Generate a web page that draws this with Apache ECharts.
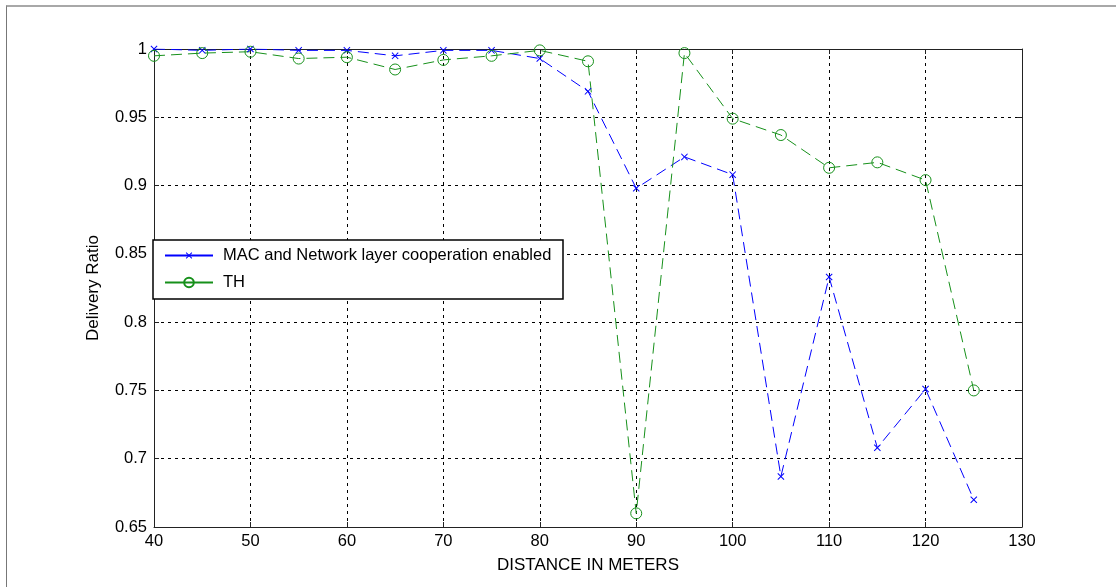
<!DOCTYPE html>
<html>
<head>
<meta charset="utf-8">
<script src="https://cdn.jsdelivr.net/npm/echarts@6/dist/echarts.min.js"></script>
<style>
html,body{margin:0;padding:0;background:#fff;}
#frame{position:absolute;left:6px;top:5px;width:1110px;height:582px;border-top:2px solid #a8a8a8;border-left:1px solid #777;box-sizing:border-box;}
#chart{position:absolute;left:0;top:0;width:1116px;height:587px;}
</style>
</head>
<body>
<div id="frame"></div>
<div id="chart"></div>
<script>
const distances = [40,45,50,55,60,65,70,75,80,85,90,95,100,105,110,115,120,125];
const macValues = [1.0,0.999,1.0,0.999,0.999,0.995,0.999,0.999,0.993,0.969,0.898,0.921,0.908,0.687,0.833,0.708,0.751,0.670];
const thValues  = [0.995,0.997,0.998,0.993,0.994,0.985,0.992,0.995,0.999,0.991,0.660,0.997,0.949,0.937,0.913,0.917,0.904,0.750];
const seriesNames = ['MAC and Network layer cooperation enabled','TH'];
const xAxisName = 'DISTANCE IN METERS';
const yAxisName = 'Delivery Ratio';

const font = 'Liberation Sans, Arial, sans-serif';
const fs = 16.5;
const blue = '#0000ff';
const green = '#16901a';
const xMark = 'path://M0,1 L1,0 L5,4 L9,0 L10,1 L6,5 L10,9 L9,10 L5,6 L1,10 L0,9 L4,5 Z';

const chart = echarts.init(document.getElementById('chart'), null, {renderer:'canvas'});
const axisLine = {show:true, lineStyle:{color:'#222', width:1}};
const tick = {show:true, inside:true, length:5, lineStyle:{color:'#222'}};
const split = {show:true, lineStyle:{color:'#000', type:[3,4], width:1}};
const legendText = {fontFamily:font, fontSize:fs, color:'#000', padding:[0,0,0,5]};
chart.setOption({
  animation:false,
  backgroundColor:'transparent',
  grid:{left:154, right:94, top:49, bottom:60},
  graphic:[{
    type:'rect', z:3,
    shape:{x:153, y:240, width:410, height:59},
    style:{fill:'#fff', stroke:'#000', lineWidth:1.5}
  }],
  legend:[{
    orient:'vertical', left:164, top:247, padding:0,
    itemWidth:48, itemHeight:8,
    textStyle:legendText, lineStyle:{type:'solid'},
    data:[seriesNames[0]]
  },{
    orient:'vertical', left:164, top:274, padding:0,
    itemWidth:48, itemHeight:12,
    textStyle:legendText, lineStyle:{type:'solid'},
    data:[seriesNames[1]]
  }],
  xAxis:[{
    type:'value', min:40, max:130, interval:10,
    name:xAxisName, nameLocation:'middle', nameGap:30,
    nameTextStyle:{fontFamily:font, fontSize:17, color:'#000'},
    axisLine:axisLine, axisTick:tick,
    axisLabel:{fontFamily:font, fontSize:fs, color:'#000', margin:6},
    splitLine:split
  },{
    type:'value', min:40, max:130, interval:10, position:'top',
    axisLine:axisLine, axisTick:tick,
    axisLabel:{show:false}, splitLine:{show:false}
  }],
  yAxis:[{
    type:'value', min:0.65, max:1, interval:0.05,
    name:yAxisName, nameLocation:'middle', nameGap:52, nameRotate:90,
    nameTextStyle:{fontFamily:font, fontSize:17, color:'#000'},
    axisLine:axisLine, axisTick:tick,
    axisLabel:{fontFamily:font, fontSize:fs, color:'#000', margin:7,
      formatter:v=>String(+v.toFixed(2))},
    splitLine:split
  },{
    type:'value', min:0.65, max:1, interval:0.05, position:'right',
    axisLine:axisLine, axisTick:tick,
    axisLabel:{show:false}, splitLine:{show:false}
  }],
  series:[{
    name:seriesNames[0], type:'line',
    data:distances.map((d,i)=>[d, macValues[i]]),
    symbol:xMark, symbolSize:7,
    itemStyle:{color:blue},
    lineStyle:{color:blue, width:1, type:[11,6]}
  },{
    name:seriesNames[1], type:'line',
    data:distances.map((d,i)=>[d, thValues[i]]),
    symbol:'circle', symbolSize:11,
    itemStyle:{color:'rgba(255,255,255,0)', borderColor:green, borderWidth:1},
    lineStyle:{color:green, width:1, type:[11,6]}
  }]
});
</script>
</body>
</html>
